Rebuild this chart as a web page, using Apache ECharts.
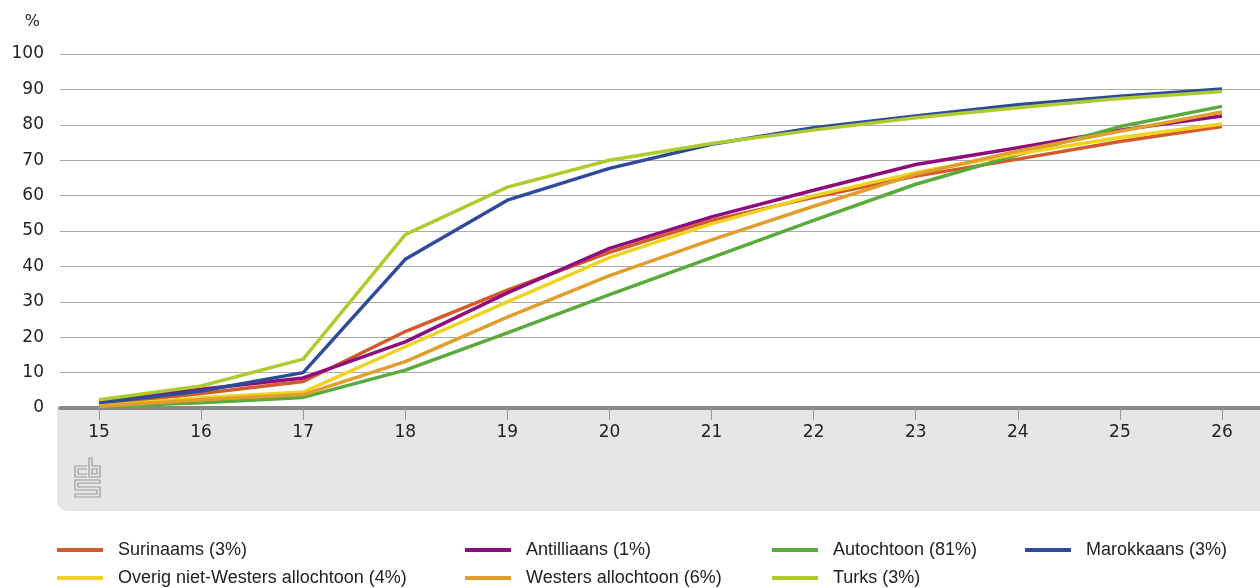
<!DOCTYPE html>
<html><head><meta charset="utf-8">
<script src="https://cdn.jsdelivr.net/npm/echarts@6/dist/echarts.min.js"></script>
<style>html,body{margin:0;padding:0;background:#fff}#c{width:1260px;height:588px}</style>
</head><body><div id="c"></div>
<script>
const ages = ['15','16','17','18','19','20','21','22','23','24','25','26'];
const yTicks = [0,10,20,30,40,50,60,70,80,90,100];
const surinaams   = [1.0, 4.1, 7.5, 21.6, 33.3, 44.0, 53.0, 59.5, 65.5, 70.3, 75.3, 79.5];
const antilliaans = [1.8, 5.3, 8.5, 18.7, 32.5, 45.1, 54.0, 61.5, 68.8, 73.5, 78.5, 82.5];
const autochtoon  = [0.4, 1.5, 3.0, 10.7, 21.2, 32.0, 42.5, 53.0, 63.2, 71.5, 79.5, 85.2];
const marokkaans  = [1.4, 4.8, 10.0, 42.0, 58.7, 67.7, 74.5, 79.2, 82.5, 85.7, 88.1, 90.1];
const overig      = [0.6, 2.9, 4.5, 17.3, 30.0, 42.5, 52.0, 60.0, 66.5, 71.8, 76.4, 80.2];
const westers     = [0.5, 2.3, 3.8, 13.1, 25.7, 37.4, 47.5, 57.0, 66.0, 72.6, 78.2, 83.6];
const turks       = [2.3, 6.2, 13.8, 49.0, 62.4, 70.0, 74.7, 78.5, 82.0, 84.8, 87.4, 89.4];

const names = ['Surinaams (3%)','Antilliaans (1%)','Autochtoon (81%)','Marokkaans (3%)',
  'Overig niet-Westers allochtoon (4%)','Westers allochtoon (6%)','Turks (3%)'];
const colors = ['#d35a2a','#8e0c7c','#5aab3c','#2e4b9b','#f0d321','#e29e2c','#afcb2e'];
const values = [surinaams, antilliaans, autochtoon, marokkaans, overig, westers, turks];

const chart = echarts.init(document.getElementById('c'), null, {renderer:'canvas'});
const lg = (left, top, name) => ({
  left, top, data:[name], orient:'horizontal', itemWidth:46, itemHeight:4, icon:'rect', padding:0,
  textStyle:{fontFamily:'Liberation Sans Narrow, Liberation Sans, sans-serif', fontSize:18, color:'#222', padding:[0,0,0,10]},
  selectedMode:false
});
const gs = '#9a9a9a';
chart.setOption({
  animation:false,
  graphic:[
    {type:'rect', z:-10, shape:{x:57, y:408, width:1210, height:103, r:[0,0,0,10]}, style:{fill:'#e6e6e6'}},
    {type:'group', z:-5, children:[
      {type:'polyline', shape:{points:[[87,466],[75,466],[75,477],[87,477]]}, style:{stroke:gs, fill:null, lineWidth:1.2}},
      {type:'polyline', shape:{points:[[87,469],[78,469],[78,474],[87,474]]}, style:{stroke:gs, fill:null, lineWidth:1.2}},
      {type:'polyline', shape:{points:[[89,458],[89,477],[100,477],[100,466],[92,466],[92,458],[89,458]]}, style:{stroke:gs, fill:null, lineWidth:1.2}},
      {type:'rect', shape:{x:92, y:469, width:5, height:5}, style:{stroke:gs, fill:null, lineWidth:1.2}},
      {type:'polyline', shape:{points:[[100,480],[75,480],[75,490],[97,490],[97,494],[75,494],[75,497],[100,497],[100,487],[78,487],[78,483],[100,483],[100,480]]}, style:{stroke:gs, fill:null, lineWidth:1.2}}
    ]}
  ],
  grid:[
    {left:60, right:0, top:54, height:354},
    {left:99, right:38, top:54, height:354}
  ],
  xAxis:[
    {gridIndex:0, type:'value', min:0, max:1, axisLine:{show:true, lineStyle:{color:'#888', width:4}},
     axisTick:{show:false}, axisLabel:{show:false}, splitLine:{show:false}},
    {gridIndex:1, type:'category', data:ages, boundaryGap:false,
     axisLine:{show:false}, axisTick:{show:true, length:12, lineStyle:{color:'#999', width:1}},
     axisLabel:{fontFamily:'DejaVu Sans, sans-serif', fontSize:17, color:'#222', margin:16},
     splitLine:{show:false}}
  ],
  yAxis:[
    {gridIndex:0, type:'value', min:yTicks[0], max:yTicks[yTicks.length-1], interval:10,
     name:'%', nameLocation:'end', nameGap:24,
     nameTextStyle:{fontFamily:'DejaVu Sans, sans-serif', fontSize:16, color:'#222', align:'right', padding:[0,20,0,0]},
     axisLine:{show:false}, axisTick:{show:false},
     axisLabel:{fontFamily:'DejaVu Sans, sans-serif', fontSize:17, color:'#222', margin:16},
     splitLine:{show:true, lineStyle:{color:'#aaa', width:1}}},
    {gridIndex:1, type:'value', min:0, max:100, show:false}
  ],
  legend:[
    lg(57, 541, names[0]), lg(57, 569, names[4]),
    lg(465, 541, names[1]), lg(465, 569, names[5]),
    lg(772, 541, names[2]), lg(772, 569, names[6]),
    lg(1025, 541, names[3])
  ],
  series: names.map((n,i)=>({
    name:n, type:'line', xAxisIndex:1, yAxisIndex:1, data:values[i], symbol:'none',
    lineStyle:{width:3.5, color:colors[i]}, itemStyle:{color:colors[i]}, z:3
  }))
});
</script></body></html>
